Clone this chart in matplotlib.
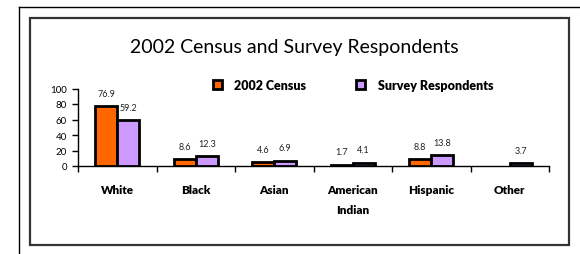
import numpy as np
import matplotlib
matplotlib.use("Agg")
import matplotlib.pyplot as plt
from matplotlib.patches import Rectangle
from matplotlib.lines import Line2D

categories = ["White", "Black", "Asian", "American\nIndian", "Hispanic", "Other"]
census = [76.9, 8.6, 4.6, 1.7, 8.8, np.nan]
survey = [59.2, 12.3, 6.9, 4.1, 13.8, 3.7]
series_names = ["2002 Census", "Survey Respondents"]
yticks = [0, 20, 40, 60, 80, 100]

orange = "#FF6600"
lilac = "#CC99FF"
font = "Lato"

plt.rcParams["font.family"] = [font, "DejaVu Sans"]

fig = plt.figure(figsize=(5.8, 2.55), dpi=100)
W, H = 580, 255

# page frame (outer L) and chart box
fig.add_artist(Line2D([19 / W, 1], [1 - 8 / H, 1 - 8 / H], color="black", lw=1.0))
fig.add_artist(Line2D([19 / W, 19 / W], [0, 1 - 8 / H], color="black", lw=1.0))
fig.add_artist(Rectangle((30 / W, 1 - 246 / H), 539 / W, 227 / H, fill=False,
                         edgecolor="#333333", lw=1.6, transform=fig.transFigure))

ax = fig.add_axes([78 / W, 1 - 167 / H, (549 - 78) / W, (167 - 89.5) / H])

x = np.arange(len(categories))
w = 0.28
census = np.array(census)
has = ~np.isnan(census)

b1 = ax.bar(x[has] - w / 2, census[has], w, color=orange, edgecolor="black",
            linewidth=2.0, label=series_names[0], zorder=3)
b2 = ax.bar(x + w / 2, survey, w, color=lilac, edgecolor="black",
            linewidth=2.0, label=series_names[1], zorder=3)

ax.bar_label(b1, labels=[f"{v:.1f}" for v in census[has]], padding=6,
             fontsize=6.5, color="#222222")
ax.bar_label(b2, labels=[f"{v:.1f}" for v in survey], padding=6,
             fontsize=6.5, color="#222222")

ax.set_xlim(-0.5, len(categories) - 0.5)
ax.set_ylim(0, 100)
ax.set_yticks(yticks)
ax.tick_params(axis="y", length=4, width=1, pad=4, labelsize=7)

ax.set_xticks(x)
ax.set_xticklabels(categories, fontweight="heavy", fontsize=8.5, linespacing=2.0)
ax.set_xticks(np.arange(len(categories) + 1) - 0.5, minor=True)
ax.tick_params(axis="x", which="major", length=0, pad=13)
ax.tick_params(axis="x", which="minor", length=4, width=1, direction="out")

for s in ["top", "right"]:
    ax.spines[s].set_visible(False)
ax.spines["left"].set_linewidth(1)
ax.spines["bottom"].set_linewidth(1)
ax.set_facecolor("none")

fig.text(294 / W, 1 - 47 / H, "2002 Census and Survey Respondents",
         ha="center", va="center", fontsize=14)

ax.legend(handles=[b1, b2], ncol=2, frameon=False, loc="center",
          bbox_to_anchor=(353 / W, 1 - 86 / H), bbox_transform=fig.transFigure,
          handlelength=0.7, handleheight=0.7, handletextpad=1.0,
          columnspacing=4.0, prop={"weight": "heavy", "size": 9})

fig.savefig("out.png", dpi=100)
